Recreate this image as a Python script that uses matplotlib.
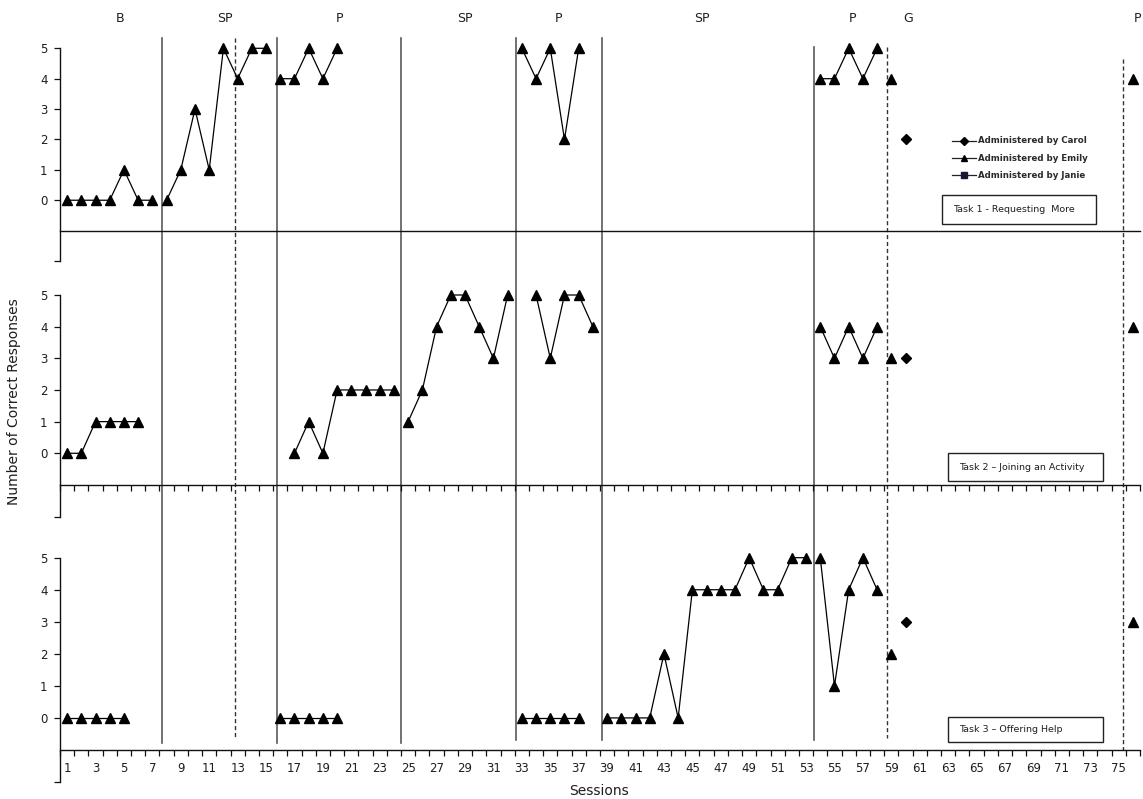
import numpy as np
import matplotlib
matplotlib.use("Agg")
import matplotlib.pyplot as plt
from matplotlib.patches import Rectangle
import matplotlib.transforms as mtransforms

W, H = 1143, 799

# ---- data -------------------------------------------------------------
n_sessions = 76
session_ticks = list(range(1, 76, 2))
session_labels = [str(s) for s in session_ticks]
y_ticks = [0, 1, 2, 3, 4, 5]

phase_names = ["B", "SP", "P", "SP", "P", "SP", "P", "G", "P"]
phase_label_x = [4.7, 12.1, 20.2, 29.0, 35.6, 45.7, 56.3, 60.2, 76.3]
phase_change_solid = [7.7, 15.75, 24.5, 32.6, 38.65, 53.55]
phase_change_dashed = [12.85, 58.7, 75.3]

# runs of consecutive sessions: (first session, values)
task1_emily = [(1, [0, 0, 0, 0, 1, 0, 0]),
               (8, [0, 1, 3, 1, 5, 4, 5, 5]),
               (16, [4, 4, 5, 4, 5]),
               (33, [5, 4, 5, 2, 5]),
               (54, [4, 4, 5, 4, 5]),
               (59, [4]),
               (76, [4])]
task1_carol = [(60, [2])]

task2_emily = [(1, [0, 0, 1, 1, 1, 1]),
               (17, [0, 1, 0, 2, 2, 2, 2, 2]),
               (25, [1, 2, 4, 5, 5, 4, 3, 5]),
               (34, [5, 3, 5, 5, 4]),
               (54, [4, 3, 4, 3, 4]),
               (59, [3]),
               (76, [4])]
task2_carol = [(60, [3])]

task3_emily = [(1, [0, 0, 0, 0, 0]),
               (16, [0, 0, 0, 0, 0]),
               (33, [0, 0, 0, 0, 0]),
               (39, [0, 0, 0, 0, 2, 0, 4, 4, 4, 4, 5, 4, 4, 5, 5]),
               (54, [5, 1, 4, 5, 4]),
               (59, [2]),
               (76, [3])]
task3_carol = [(60, [3])]

task_titles = ["Task 1 - Requesting  More",
               "Task 2 \u2013 Joining an Activity",
               "Task 3 \u2013 Offering Help"]
legend_labels = ["Administered by Carol", "Administered by Emily", "Administered by Janie"]

# ---- layout -----------------------------------------------------------
fig = plt.figure(figsize=(W / 100, H / 100), dpi=100)
fig.patch.set_facecolor("white")

# pixel overlay used for annotations and the phase-change lines
over = fig.add_axes([0, 0, 1, 1], zorder=0)
over.set_xlim(0, W)
over.set_ylim(H, 0)
over.axis("off")

ax_left, ax_right = 60, 1140
panel_px = [(48.3, 261.0), (295.0, 516.6), (557.7, 782.0)]  # pixel rows of y=5 and y=-2

TXT = "#1e1e1e"
axes = []
for i, (y5, ym2) in enumerate(panel_px):
    ax = fig.add_axes([ax_left / W, 1 - ym2 / H, (ax_right - ax_left) / W, (ym2 - y5) / H],
                      zorder=2)
    ax.set_facecolor("none")
    ax.set_xlim(0.5, n_sessions + 0.5)
    ax.set_ylim(-2, 5)
    for s in ("top", "right"):
        ax.spines[s].set_visible(False)
    ax.spines["left"].set_bounds(-2, 5)
    ax.spines["bottom"].set_position(("data", -1))
    for s in ("left", "bottom"):
        ax.spines[s].set_color("#111111")
        ax.spines[s].set_linewidth(1.0)
    ax.set_yticks([-2] + y_ticks)
    ax.set_yticklabels([""] + [str(v) for v in y_ticks])
    ax.tick_params(axis="y", direction="out", length=4, width=0.9, pad=5,
                   labelsize=8.5, labelcolor=TXT, color="#111111")
    ax.set_xticks(np.arange(0.5, n_sessions + 1, 1.0))
    ax.set_xticklabels([])
    if i == 0:
        ax.tick_params(axis="x", length=0)
    else:
        ax.tick_params(axis="x", direction="out", length=4, width=0.9, color="#111111")
    if i == 2:
        ax.set_xticks(session_ticks, minor=True)
        ax.set_xticklabels(session_labels, minor=True)
        ax.tick_params(axis="x", which="minor", length=0, pad=9,
                       labelsize=8.5, labelcolor=TXT)
    axes.append(ax)


def draw_runs(ax, runs, marker, ms):
    for start, vals in runs:
        xs = np.arange(start, start + len(vals))
        ax.plot(xs, vals, color="black", lw=0.9, marker=marker, ms=ms,
                mfc="black", mec="black", clip_on=False, zorder=4)


for ax, emily, carol in zip(axes, [task1_emily, task2_emily, task3_emily],
                            [task1_carol, task2_carol, task3_carol]):
    draw_runs(ax, emily, "^", 7.5)
    draw_runs(ax, carol, "D", 4.8)

# phase-change lines span all three tasks
blend = mtransforms.blended_transform_factory(axes[2].transData, over.transData)
solid_extent = [(37.7, 743), (37.7, 743), (37.7, 743), (37.7, 740), (37.7, 740), (46.7, 740)]
for x, (y0, y1) in zip(phase_change_solid, solid_extent):
    over.plot([x, x], [y0, y1], color="#5a5a5a", lw=1.2, transform=blend, zorder=1)
dashed_extent = [(37.7, 738), (46.7, 738), (59.0, 750)]
for x, (y0, y1) in zip(phase_change_dashed, dashed_extent):
    over.plot([x, x], [y0, y1], color="#333333", lw=1.0, ls=(0, (3, 2)),
              transform=blend, zorder=1)

for name, x in zip(phase_names, phase_label_x):
    over.text(x, 18, name, transform=blend, ha="center", va="center",
              fontsize=9, color=TXT, family="DejaVu Sans")

# task boxes
task_boxes = [(941.7, 195.0, 154.3, 29.0), (948.3, 453.3, 155.0, 27.7), (948.3, 716.7, 155.0, 25.6)]
for (bx, by, bw, bh), title in zip(task_boxes, task_titles):
    over.add_patch(Rectangle((bx, by), bw, bh, fill=True, facecolor="white",
                             edgecolor="#222222", lw=1.0, zorder=3))
    over.text(bx + 11, by + bh / 2, title, ha="left", va="center",
              fontsize=6.8, color=TXT, zorder=4)

# legend
leg_rows = [140.7, 158.3, 175.0]
leg_markers = [("D", 3.8, "black"), ("^", 5.0, "black"), ("s", 4.2, "#1c1436")]
for (m, ms, mc), yy, lab in zip(leg_markers, leg_rows, legend_labels):
    over.plot([951.7, 976.0], [yy, yy], color="#222222", lw=0.9, zorder=3)
    over.plot([963.5], [yy], marker=m, ms=ms, color=mc, zorder=4)
    over.text(978, yy, lab, ha="left", va="center", fontsize=6.2,
              color="#2a2a2a", fontweight="bold", zorder=4)

fig.text(14 / W, 1 - 402 / H, "Number of Correct Responses", rotation=90,
         ha="center", va="center", fontsize=10, color=TXT)
fig.text(599 / W, 1 - 791 / H, "Sessions", ha="center", va="center",
         fontsize=10, color=TXT)

fig.savefig("out.png", dpi=100, facecolor="white")
